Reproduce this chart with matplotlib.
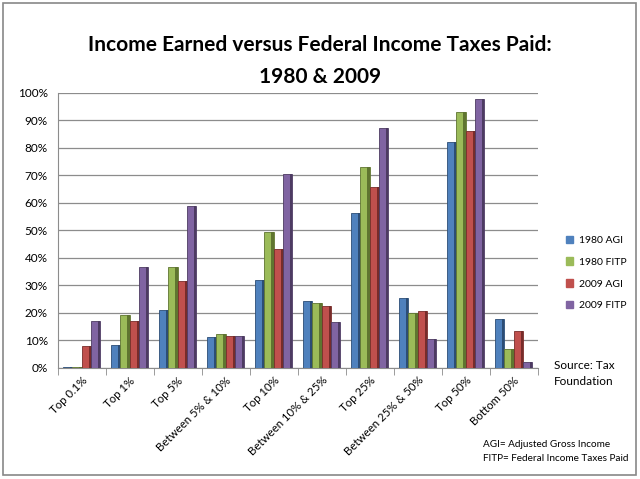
import numpy as np
import matplotlib.pyplot as plt
from matplotlib.patches import Rectangle, Patch
from matplotlib.ticker import PercentFormatter

plt.rcParams['font.family'] = ['Lato', 'DejaVu Sans']

groups = ['Top 0.1%', 'Top 1%', 'Top 5%', 'Between 5% & 10%', 'Top 10%',
          'Between 10% & 25%', 'Top 25%', 'Between 25% & 50%', 'Top 50%', 'Bottom 50%']
agi_1980 = [0.2, 8.5, 21.0, 11.2, 32.1, 24.4, 56.5, 25.4, 82.0, 17.7]
fitp_1980 = [0.2, 19.1, 36.8, 12.2, 49.3, 23.7, 73.0, 19.8, 92.9, 7.0]
agi_2009 = [7.8, 16.9, 31.7, 11.5, 43.2, 22.5, 65.7, 20.6, 86.3, 13.3]
fitp_2009 = [17.1, 36.7, 58.7, 11.7, 70.5, 16.8, 87.3, 10.4, 97.7, 2.3]

series = [('1980 AGI', agi_1980, '#4F81BD', '#2C4D75'),
          ('1980 FITP', fitp_1980, '#9BBB59', '#5F7530'),
          ('2009 AGI', agi_2009, '#C0504D', '#772C2A'),
          ('2009 FITP', fitp_2009, '#8064A2', '#4D3B62')]

fig = plt.figure(figsize=(6.4, 4.79), dpi=100)
ax = fig.add_axes([0.09, 0.232, 0.75, 0.574])

x = np.arange(len(groups))
w = 0.19
for i, (name, vals, col, dark) in enumerate(series):
    pos = x + (i - 1.5) * w
    ax.bar(pos, vals, width=w, color=col, edgecolor=dark, linewidth=0.6, zorder=3)
    # darker side to hint at the 3D look
    ax.bar(pos + w * 0.38, vals, width=w * 0.24, color=dark, linewidth=0, zorder=4)

ax.set_xlim(-0.5, len(groups) - 0.5)
ax.set_ylim(0, 100)
ax.set_yticks(np.arange(0, 101, 10))
ax.yaxis.set_major_formatter(PercentFormatter(decimals=0))
ax.grid(axis='y', color='#8c8c8c', linewidth=0.9, zorder=0)
for s in ['top', 'right']:
    ax.spines[s].set_visible(False)
ax.spines['left'].set_color('#8c8c8c')
ax.spines['bottom'].set_color('#8c8c8c')
ax.set_xticks(np.arange(len(groups) + 1) - 0.5, minor=True)
ax.set_xticks(x)
ax.set_xticklabels(groups, rotation=45, ha='right', rotation_mode='anchor', fontsize=8.2)
ax.tick_params(axis='x', which='major', length=0, pad=5)
ax.tick_params(axis='x', which='minor', length=5, color='#8c8c8c')
ax.tick_params(axis='y', length=0, labelsize=8.5, pad=7)

fig.text(0.5, 0.872, 'Income Earned versus Federal Income Taxes Paid:\n1980 & 2009',
         ha='center', va='center', fontsize=15, fontweight='bold', linespacing=1.75)

handles = [Patch(facecolor=c, edgecolor=c) for _, _, c, _ in series]
fig.legend(handles, [s[0] for s in series], loc='center left',
           bbox_to_anchor=(0.87, 0.43), frameon=False, fontsize=7.5,
           handlelength=0.7, handleheight=0.7, labelspacing=1.2, handletextpad=0.5)

fig.text(0.865, 0.22, 'Source: Tax\nFoundation', ha='left', va='center',
         fontsize=8.5, linespacing=1.5)
fig.text(0.982, 0.058, 'AGI= Adjusted Gross Income\nFITP= Federal Income Taxes Paid',
         ha='right', va='center', fontsize=7.2, multialignment='left', linespacing=1.7)

fig.add_artist(Rectangle((0.005, 0.008), 0.988, 0.985, transform=fig.transFigure,
                         fill=False, edgecolor='#888888', linewidth=1.2))

fig.savefig('out.png', dpi=100)
